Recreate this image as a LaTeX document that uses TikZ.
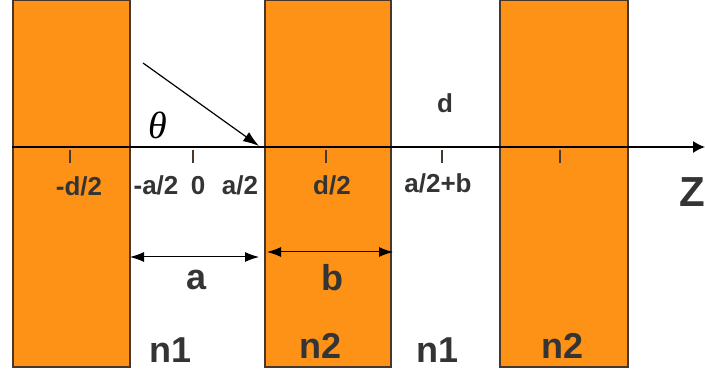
\documentclass[tikz,border=0pt]{standalone}
\usepackage{fontspec}
\setmainfont{Liberation Sans}
\newfontfamily\anglefont{Liberation Serif}
\usetikzlibrary{arrows.meta}
\definecolor{slab}{RGB}{253,146,22}
\definecolor{slabedge}{RGB}{72,56,44}
\definecolor{ink}{RGB}{52,52,52}
\begin{document}
\begin{tikzpicture}[
  x=1pt, y=-1pt,
  layer/.style={draw=slabedge, line width=1.6pt, fill=slab, anchor=north west,
                minimum height=367pt, inner sep=0, outer sep=0},
  tick/.style={draw=slabedge, line width=1.2pt},
  zpos/.style={font=\fontsize{26}{26}\selectfont\bfseries, text=ink, anchor=base, inner sep=0},
  big/.style={font=\fontsize{36}{36}\selectfont\bfseries, text=ink, anchor=base, inner sep=0},
  dim/.style={line width=1pt, {Latex[length=14pt,width=10pt]}-{Latex[length=14pt,width=10pt]}}
]
\useasboundingbox (0,0) rectangle (705,371);

% ── Layers ──────────────────────────────────────────────────────────────────
\node[layer, minimum width=117pt] (layerA) at (13,0)  {};
\node[layer, minimum width=126pt] (layerB) at (265,0) {};
\node[layer, minimum width=128pt] (layerC) at (500,0) {};

% ── Axis and ticks ──────────────────────────────────────────────────────────
\coordinate (zstart) at (12,147);
\coordinate (zend)   at (705,147);
\draw[line width=1.4pt, -{Latex[length=12pt,width=12pt]}] (zstart) -- (zend);
\draw[line width=2.6pt, dash pattern=on 20pt off 24pt] (143,147) -- (255,147);
\foreach \x in {70,193,326,442,560}
  \draw[tick] (\x,150) -- (\x,163);

% ── Incident ray ────────────────────────────────────────────────────────────
\coordinate (rayfrom) at (143,63);
\coordinate (rayto)   at (259,146);
\draw[line width=1.2pt, -{Latex[length=16pt,width=11pt]}] (rayfrom) -- (rayto);
\node[anchor=base, inner sep=0, font=\anglefont\itshape\fontsize{38}{38}\selectfont] (theta) at (158,139) {θ};

% ── Positions on the axis ───────────────────────────────────────────────────
\node[zpos] (mdhalf) at (79,196)  {-d/2};
\node[zpos] (mahalf) at (156,195) {-a/2};
\node[zpos] (zero)   at (198,195) {0};
\node[zpos] (ahalf)  at (240,195) {a/2};
\node[zpos] (dhalf)  at (332,195) {d/2};
\node[zpos] (ahalfb) at (438,193) {a/2+b};
\node[zpos] (period) at (445,113) {d};
\node[big, font=\fontsize{42}{42}\selectfont\bfseries] (zlabel) at (692,207) {Z};

% ── Thicknesses ─────────────────────────────────────────────────────────────
\coordinate (aL) at (130,257);
\coordinate (aR) at (259,257);
\coordinate (bL) at (267,252);
\coordinate (bR) at (393,252);
\draw[dim] (aL) -- (aR);
\draw[dim] (bL) -- (bR);
\node[big] (alabel) at (197,290) {a};
\node[big] (blabel) at (332,291) {b};

% ── Indices ─────────────────────────────────────────────────────────────────
\node[big] (nA) at (171,363) {n1};
\node[big] (nB) at (321,359) {n2};
\node[big] (nC) at (438,363) {n1};
\node[big] (nD) at (563,359) {n2};

\end{tikzpicture}
\end{document}
